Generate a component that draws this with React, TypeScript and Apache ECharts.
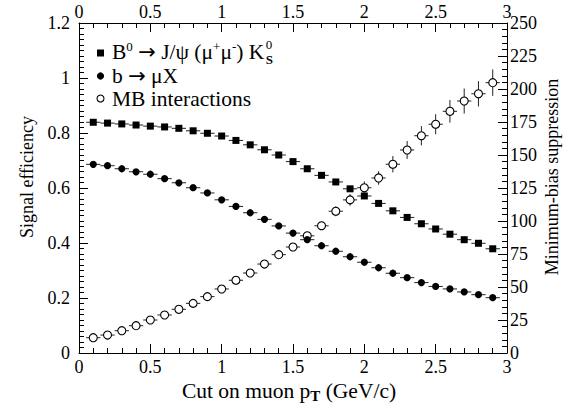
import React, { useEffect, useRef } from "react";
import * as echarts from "echarts";

const ptCut = [0.1, 0.2, 0.3, 0.4, 0.5, 0.6, 0.7, 0.8, 0.9, 1.0, 1.1, 1.2, 1.3, 1.4, 1.5, 1.6, 1.7, 1.8, 1.9, 2.0, 2.1, 2.2, 2.3, 2.4, 2.5, 2.6, 2.7, 2.8, 2.9];
const effBJpsiK = [0.839, 0.836, 0.833, 0.829, 0.825, 0.822, 0.817, 0.808, 0.799, 0.789, 0.773, 0.757, 0.739, 0.72, 0.696, 0.67, 0.646, 0.622, 0.597, 0.571, 0.544, 0.517, 0.493, 0.47, 0.451, 0.432, 0.412, 0.399, 0.379];
const effBMuX = [0.686, 0.681, 0.67, 0.659, 0.65, 0.634, 0.619, 0.601, 0.582, 0.557, 0.533, 0.51, 0.486, 0.462, 0.436, 0.412, 0.39, 0.37, 0.35, 0.33, 0.31, 0.29, 0.274, 0.256, 0.242, 0.233, 0.222, 0.212, 0.201];
const mbSuppression = [11.6, 13.6, 16.9, 20.7, 25.0, 28.8, 33.1, 37.6, 42.7, 48.5, 55.1, 60.6, 67.4, 74.5, 80.3, 88.8, 96.4, 107.4, 116.0, 125.2, 132.6, 143.0, 153.8, 164.6, 173.3, 183.1, 190.9, 196.4, 204.8];
const mbError = [0.8, 0.9, 1.0, 1.2, 1.3, 1.4, 1.5, 1.6, 1.7, 1.9, 2.0, 2.2, 2.4, 2.6, 2.8, 3.0, 3.2, 3.8, 4.4, 4.8, 5.1, 6.2, 6.8, 7.3, 7.6, 8.6, 9.5, 9.6, 10.0];
const binHalfWidth = 0.05;

const xTicks = { min: 0, max: 3, interval: 0.5 };
const leftTicks = { min: 0, max: 1.2, interval: 0.2 };
const rightTicks = { min: 0, max: 250, interval: 25 };

const SERIF = "Liberation Serif";
const SANS = "DejaVu Sans";
const FS = 18;
const LFS = 21.5;
const SUPFS = 13;
const ARFS = 21;

type Kind = "square" | "dot" | "open";

function makeRender(kind: Kind) {
  return (params: any, api: any) => {
    const x = api.value(0);
    const y = api.value(1);
    const e = api.value(2) || 0;
    const c = api.coord([x, y]);
    const l = api.coord([x - binHalfWidth, y]);
    const r = api.coord([x + binHalfWidth, y]);
    const children: any[] = [
      {
        type: "line",
        shape: { x1: l[0], y1: l[1], x2: r[0], y2: r[1] },
        style: { stroke: "#222", lineWidth: 1 },
      },
    ];
    if (e > 0) {
      const t = api.coord([x, y + e]);
      const b = api.coord([x, y - e]);
      children.push({
        type: "line",
        shape: { x1: t[0], y1: t[1], x2: b[0], y2: b[1] },
        style: { stroke: "#222", lineWidth: 1 },
      });
    }
    if (kind === "square") {
      children.push({
        type: "rect",
        shape: { x: c[0] - 3.5, y: c[1] - 3.5, width: 7, height: 7 },
        style: { fill: "#000" },
      });
    } else if (kind === "dot") {
      children.push({
        type: "circle",
        shape: { cx: c[0], cy: c[1], r: 3.6 },
        style: { fill: "#000" },
      });
    } else {
      children.push({
        type: "circle",
        shape: { cx: c[0], cy: c[1], r: 4 },
        style: { fill: "#fff", stroke: "#000", lineWidth: 1.1 },
      });
    }
    return { type: "group", children };
  };
}

function axisCommon(position: string) {
  return {
    position,
    axisLine: { show: true, onZero: false, lineStyle: { color: "#000", width: 1 } },
    axisTick: { show: true, inside: true, length: 9, lineStyle: { color: "#000" } },
    minorTick: { show: true, length: 5, lineStyle: { color: "#000" } },
    splitLine: { show: false },
    axisLabel: { color: "#000", fontFamily: SERIF, fontSize: FS },
  };
}

function measure(text: string, size: number, family: string): number {
  const cv = document.createElement("canvas");
  const ctx = cv.getContext("2d");
  if (!ctx) return text.length * size * 0.5;
  ctx.font = `${size}px "${family}"`;
  return ctx.measureText(text).width;
}

export default function App() {
  const ref = useRef<HTMLDivElement>(null);
  useEffect(() => {
    document.body.style.margin = "0";
    const chart = echarts.init(ref.current!, undefined, { renderer: "svg" });
    const sq = ptCut.map((x, i) => [x, effBJpsiK[i], 0]);
    const dots = ptCut.map((x, i) => [x, effBMuX[i], 0]);
    const open = ptCut.map((x, i) => [x, mbSuppression[i], mbError[i]]);
    const xBase = axisCommon("bottom");
    const xTop = axisCommon("top");
    const yL = axisCommon("left");
    const yR = axisCommon("right");

    const row1W =
      measure("B", LFS, SERIF) + measure("0", SUPFS, SERIF) + measure(" ", LFS, SERIF) + measure("→", ARFS, SANS) +
      measure(" J/ψ (μ", LFS, SERIF) + measure("+", SUPFS, SERIF) + measure("μ", LFS, SERIF) + measure("-", SUPFS, SERIF) +
      measure(") K", LFS, SERIF);
    const kx = 112 + row1W + 1.5;

    const rich = {
      sup: { fontSize: SUPFS, fontFamily: SERIF, verticalAlign: "top", lineHeight: 13 },
      ar: { fontSize: ARFS, fontFamily: SANS, lineHeight: 24 },
      n: { fontSize: LFS, fontFamily: SERIF, lineHeight: 24 },
    };

    const option: any = {
      animation: false,
      backgroundColor: "#fff",
      grid: { left: 79, right: 75, top: 23, bottom: 57 },
      xAxis: [
        { ...xBase, type: "value", ...xTicks, minorTick: { ...xBase.minorTick, splitNumber: 5 }, axisLabel: { ...xBase.axisLabel, margin: 5 } },
        { ...xTop, type: "value", ...xTicks, minorTick: { ...xTop.minorTick, splitNumber: 5 }, axisLabel: { ...xTop.axisLabel, margin: 2 } },
      ],
      yAxis: [
        { ...yL, type: "value", ...leftTicks, minorTick: { ...yL.minorTick, splitNumber: 10 }, axisLabel: { ...yL.axisLabel, margin: 9 } },
        { ...yR, type: "value", ...rightTicks, minorTick: { ...yR.minorTick, splitNumber: 5 }, axisLabel: { ...yR.axisLabel, margin: 3 } },
      ],
      series: [
        { type: "custom", name: "MB interactions", xAxisIndex: 0, yAxisIndex: 1, data: open, renderItem: makeRender("open"), encode: { x: 0, y: 1 } },
        { type: "custom", name: "b → μX", xAxisIndex: 0, yAxisIndex: 0, data: dots, renderItem: makeRender("dot"), encode: { x: 0, y: 1 } },
        { type: "custom", name: "B0 → J/ψ (μ+μ-) K0S", xAxisIndex: 0, yAxisIndex: 0, data: sq, renderItem: makeRender("square"), encode: { x: 0, y: 1 } },
      ],
      graphic: [
        {
          type: "text",
          x: 289,
          y: 391,
          style: {
            text: "{n|Cut on muon p}{sub|T}{n| (GeV/c)}",
            fill: "#000",
            align: "center",
            verticalAlign: "middle",
            rich: {
              n: { fontSize: 21.5, fontFamily: SERIF, lineHeight: 24 },
              sub: { fontSize: 15, fontFamily: SERIF, fontWeight: "bold", verticalAlign: "bottom", lineHeight: 15 },
            },
          },
        },
        {
          type: "text",
          x: 27,
          y: 177,
          rotation: Math.PI / 2,
          style: { text: "Signal efficiency", fontSize: FS, fontFamily: SERIF, fill: "#000", align: "center", verticalAlign: "middle" },
        },
        {
          type: "text",
          x: 552,
          y: 177,
          rotation: Math.PI / 2,
          style: { text: "Minimum-bias suppression", fontSize: FS, fontFamily: SERIF, fill: "#000", align: "center", verticalAlign: "middle" },
        },
        // legend
        { type: "rect", shape: { x: 97, y: 49.5, width: 7, height: 7 }, style: { fill: "#000" } },
        {
          type: "text",
          x: 112,
          y: 52,
          style: {
            text: "{n|B}{sup|0}{n| }{ar|→}{n| J/ψ (μ}{sup|+}{n|μ}{sup|-}{n|) K}",
            fill: "#000",
            align: "left",
            verticalAlign: "middle",
            rich,
          },
        },
        { type: "text", x: kx, y: 44, style: { text: "{sup|0}", fill: "#000", align: "left", verticalAlign: "middle", rich } },
        {
          type: "text",
          x: kx,
          y: 59,
          style: { text: "{s|S}", fill: "#000", align: "left", verticalAlign: "middle", rich: { s: { fontSize: SUPFS, fontWeight: "bold", fontFamily: SERIF } } },
        },
        { type: "circle", shape: { cx: 100.5, cy: 76, r: 3.6 }, style: { fill: "#000" } },
        {
          type: "text",
          x: 112,
          y: 76,
          style: { text: "{n|b }{ar|→}{n| μX}", fill: "#000", align: "left", verticalAlign: "middle", rich },
        },
        { type: "circle", shape: { cx: 100.5, cy: 98.5, r: 3.5 }, style: { fill: "#fff", stroke: "#000", lineWidth: 1.1 } },
        {
          type: "text",
          x: 112,
          y: 99,
          style: { text: "{n|MB interactions}", fill: "#000", align: "left", verticalAlign: "middle", rich },
        },
      ],
    };
    chart.setOption(option);
    return () => chart.dispose();
  }, []);
  return <div ref={ref} style={{ position: "absolute", left: 0, top: 0, width: 582, height: 410 }} />;
}
